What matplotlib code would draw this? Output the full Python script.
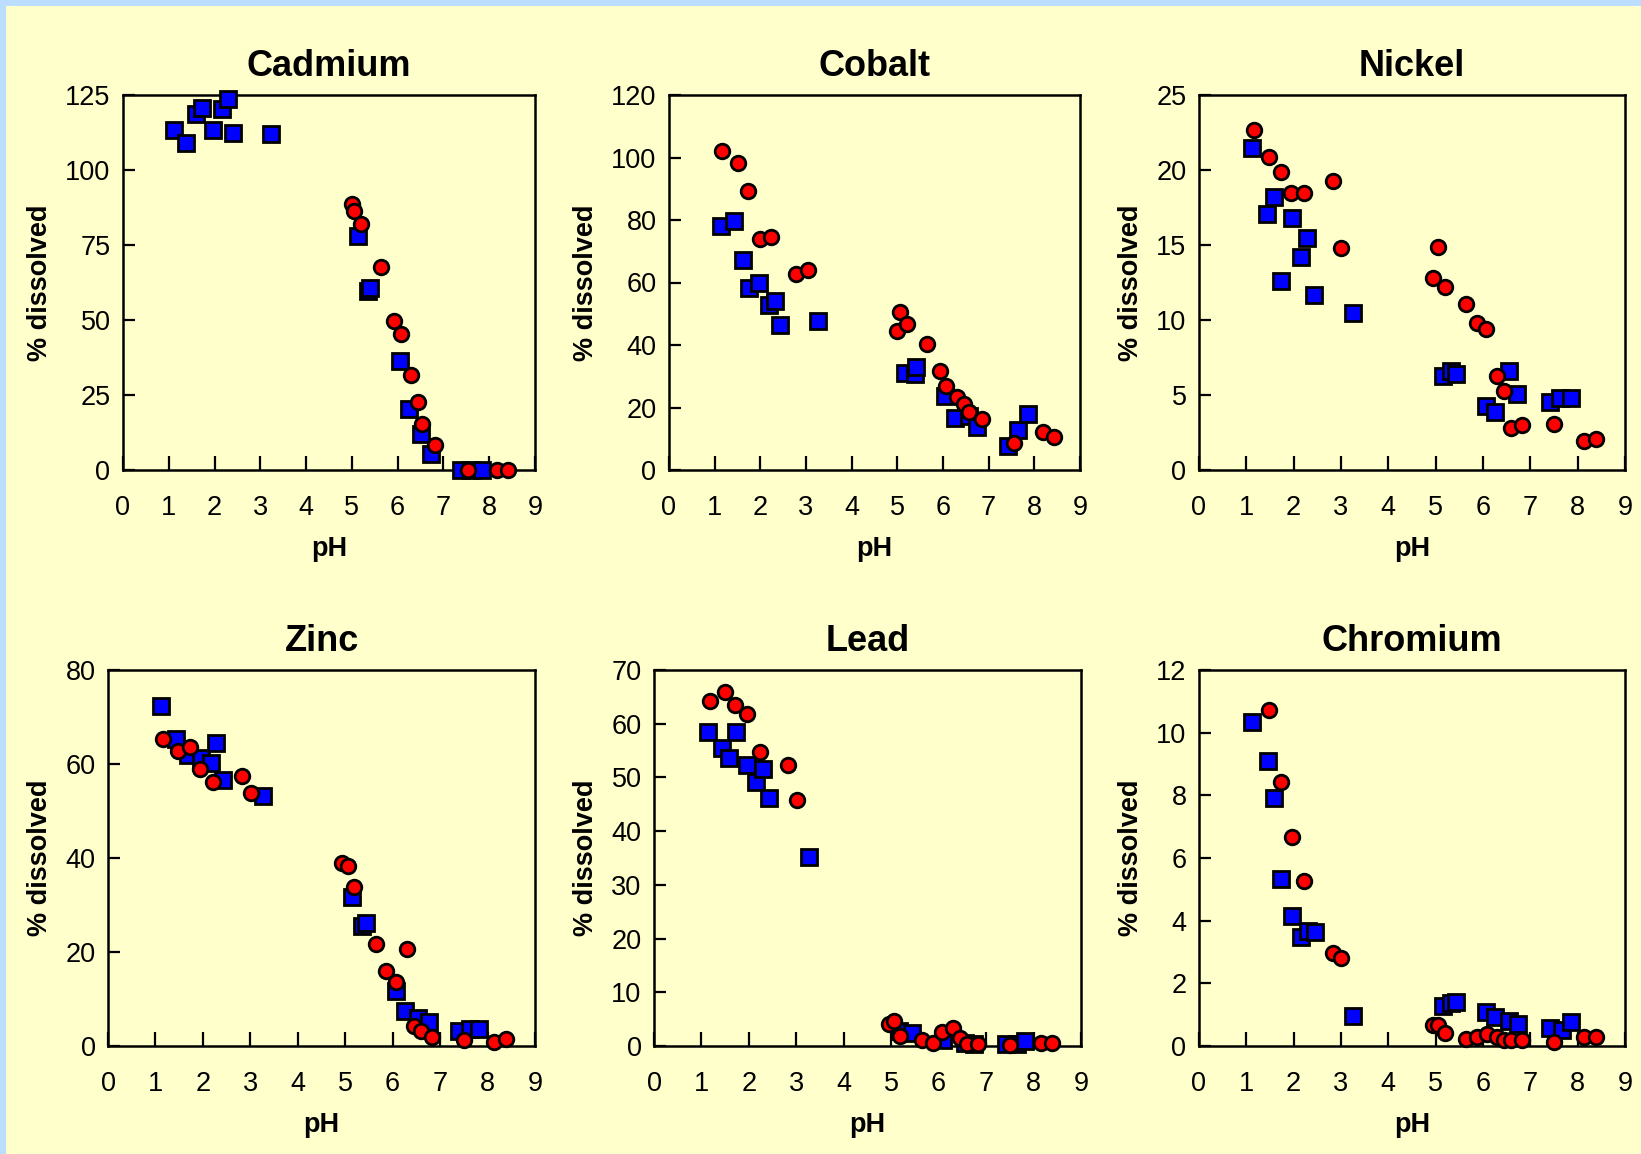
import matplotlib
matplotlib.use("Agg")
import matplotlib.pyplot as plt
from matplotlib.patches import Rectangle

plt.rcParams["font.family"] = ["Liberation Sans", "DejaVu Sans"]

# --- data (pH, % dissolved), squares = blue series, circles = red series ---
cd_sq_x = [1.11, 1.38, 1.59, 1.73, 1.97, 2.16, 2.30, 2.40, 3.23, 5.14, 5.35, 5.40, 6.05, 6.25, 6.52, 6.73, 7.38, 7.60, 7.84]
cd_sq_y = [113.5, 109, 118.7, 120.8, 113.5, 120.2, 123.6, 112.5, 112, 78, 59.6, 60.7, 36.5, 20.4, 12.1, 5.3, 0, 0, 0]
cd_ci_x = [5.00, 5.05, 5.20, 5.63, 5.91, 6.07, 6.30, 6.45, 6.54, 6.82, 7.54, 8.16, 8.40]
cd_ci_y = [88.8, 86.4, 82, 67.6, 49.8, 45.4, 31.7, 22.8, 15.3, 8.2, 0, 0, 0]

co_sq_x = [1.13, 1.42, 1.61, 1.75, 1.98, 2.19, 2.33, 2.43, 3.26, 5.17, 5.39, 5.41, 6.05, 6.26, 6.56, 6.75, 7.42, 7.65, 7.86]
co_sq_y = [78.0, 79.8, 67.3, 58.4, 59.8, 52.7, 54.1, 46.4, 47.8, 31.0, 30.7, 33.1, 23.6, 16.8, 17.3, 13.9, 7.6, 12.8, 17.9]
co_ci_x = [1.17, 1.50, 1.74, 1.99, 2.23, 2.79, 3.04, 5.00, 5.06, 5.21, 5.64, 5.93, 6.07, 6.31, 6.46, 6.56, 6.85, 7.56, 8.18, 8.43]
co_ci_y = [102, 98.3, 89.2, 73.8, 74.4, 62.6, 64.1, 44.4, 50.6, 46.7, 40.2, 31.6, 26.8, 23.4, 21.0, 18.5, 16.2, 8.6, 12.2, 10.7]

ni_sq_x = [1.12, 1.44, 1.58, 1.73, 1.97, 2.15, 2.28, 2.43, 3.26, 5.15, 5.33, 5.44, 6.07, 6.25, 6.55, 6.72, 7.42, 7.63, 7.85]
ni_sq_y = [21.5, 17.1, 18.2, 12.6, 16.8, 14.2, 15.5, 11.7, 10.5, 6.3, 6.6, 6.4, 4.25, 3.9, 6.6, 5.1, 4.56, 4.8, 4.8]
ni_ci_x = [1.17, 1.48, 1.73, 1.95, 2.22, 2.83, 3.01, 4.95, 5.05, 5.19, 5.65, 5.88, 6.07, 6.29, 6.44, 6.59, 6.82, 7.50, 8.14, 8.38]
ni_ci_y = [22.7, 20.9, 19.9, 18.5, 18.5, 19.3, 14.8, 12.8, 14.9, 12.2, 11.1, 9.8, 9.4, 6.3, 5.3, 2.8, 2.97, 3.1, 1.95, 2.1]

zn_sq_x = [1.11, 1.44, 1.69, 1.97, 2.17, 2.28, 2.43, 3.26, 5.14, 5.35, 5.43, 6.07, 6.26, 6.54, 6.76, 7.40, 7.63, 7.83]
zn_sq_y = [72.3, 65.4, 62, 61.2, 60.2, 64.4, 56.5, 53.2, 31.7, 25.6, 26.2, 11.8, 7.4, 5.9, 5.2, 3.2, 3.7, 3.7]
zn_ci_x = [1.15, 1.47, 1.72, 1.94, 2.21, 2.82, 3.01, 4.94, 5.05, 5.18, 5.65, 5.87, 6.06, 6.30, 6.45, 6.60, 6.82, 7.50, 8.14, 8.38]
zn_ci_y = [65.4, 62.7, 63.6, 58.9, 56.1, 57.5, 53.9, 38.9, 38.3, 33.8, 21.7, 16.0, 13.6, 20.6, 4.3, 3.1, 1.9, 1.3, 0.95, 1.5]

pb_sq_x = [1.13, 1.44, 1.59, 1.73, 1.95, 2.14, 2.29, 2.42, 3.26, 5.17, 5.43, 6.10, 6.56, 6.74, 7.42, 7.65, 7.83]
pb_sq_y = [58.4, 55.5, 53.6, 58.4, 52.4, 49.1, 51.5, 46.2, 35.1, 2.8, 2.5, 1.1, 0.6, 0.3, 0.3, 0.3, 1.0]
pb_ci_x = [1.17, 1.49, 1.71, 1.95, 2.23, 2.83, 3.01, 4.96, 5.05, 5.19, 5.65, 5.88, 6.07, 6.31, 6.44, 6.59, 6.82, 7.51, 8.16, 8.38]
pb_ci_y = [64.2, 65.9, 63.5, 61.8, 54.8, 52.4, 45.8, 4.1, 4.6, 1.8, 1.2, 0.6, 2.6, 3.4, 1.45, 0.4, 0.4, 0.1, 0.5, 0.5]

cr_sq_x = [1.12, 1.45, 1.58, 1.73, 1.96, 2.15, 2.30, 2.45, 3.26, 5.15, 5.33, 5.44, 6.07, 6.25, 6.55, 6.74, 7.42, 7.66, 7.85]
cr_sq_y = [10.35, 9.09, 7.92, 5.33, 4.14, 3.49, 3.67, 3.64, 0.97, 1.27, 1.38, 1.41, 1.08, 0.94, 0.80, 0.70, 0.58, 0.52, 0.78]
cr_ci_x = [1.48, 1.73, 1.96, 2.22, 2.83, 3.01, 4.95, 5.05, 5.19, 5.65, 5.88, 6.08, 6.29, 6.44, 6.59, 6.82, 7.50, 8.14, 8.38]
cr_ci_y = [10.73, 8.42, 6.66, 5.27, 2.96, 2.81, 0.68, 0.68, 0.43, 0.23, 0.28, 0.37, 0.28, 0.2, 0.2, 0.2, 0.13, 0.28, 0.28]

titles = ["Cadmium", "Cobalt", "Nickel", "Zinc", "Lead", "Chromium"]
y_max = [125, 120, 25, 80, 70, 12]
y_step = [25, 20, 5, 20, 10, 2]

squares = [(cd_sq_x, cd_sq_y), (co_sq_x, co_sq_y), (ni_sq_x, ni_sq_y),
           (zn_sq_x, zn_sq_y), (pb_sq_x, pb_sq_y), (cr_sq_x, cr_sq_y)]
circles = [(cd_ci_x, cd_ci_y), (co_ci_x, co_ci_y), (ni_ci_x, ni_ci_y),
           (zn_ci_x, zn_ci_y), (pb_ci_x, pb_ci_y), (cr_ci_x, cr_ci_y)]

W, H = 1641, 1154
# axes boxes in pixels: left, right, top, bottom
boxes = [(123, 535, 95, 470), (669, 1080, 95, 470), (1199, 1625, 95, 470),
         (108, 535, 670, 1046), (654, 1081, 670, 1046), (1199, 1625, 670, 1046)]

bg_yellow = "#FFFFCC"
bg_blue = "#BBDDFF"
fig = plt.figure(figsize=(W / 100, H / 100), dpi=100, facecolor=bg_yellow)
# light blue strips along the top and left edges
fig.patches.append(Rectangle((0, 1 - 6 / H), 1, 6 / H, transform=fig.transFigure,
                             facecolor=bg_blue, edgecolor="none", zorder=-10))
fig.patches.append(Rectangle((0, 0), 6 / W, 1, transform=fig.transFigure,
                             facecolor=bg_blue, edgecolor="none", zorder=-10))

for i in range(6):
    l, r, t, b = boxes[i]
    ax = fig.add_axes([l / W, 1 - b / H, (r - l) / W, (b - t) / H])
    ax.set_facecolor(bg_yellow)

    cx, cy = circles[i]
    sx, sy = squares[i]
    ax.plot(sx, sy, "s", ms=11.5, mfc="#0000FF", mec="black", mew=2.0, clip_on=False, zorder=3)
    ax.plot(cx, cy, "o", ms=10.5, mfc="#FF0000", mec="black", mew=2.0, clip_on=False, zorder=4)

    ax.set_xlim(0, 9)
    ax.set_ylim(0, y_max[i])
    ax.set_xticks(range(0, 10))
    ax.set_yticks(range(0, y_max[i] + 1, y_step[i]))

    for s in ax.spines.values():
        s.set_linewidth(1.8)
    ax.tick_params(axis="x", direction="in", length=10, width=1.6, pad=18, labelsize=19.5)
    ax.tick_params(axis="y", direction="in", length=8.5, width=1.6, pad=9, labelsize=19.5)

    ax.set_title(titles[i], fontsize=26, fontweight="bold", pad=14)
    ax.set_xlabel("pH", fontsize=19.5, fontweight="bold", labelpad=11)
    ax.set_ylabel("% dissolved", fontsize=19.5, fontweight="bold", labelpad=9)

fig.savefig("out.png", dpi=100, facecolor=fig.get_facecolor())
